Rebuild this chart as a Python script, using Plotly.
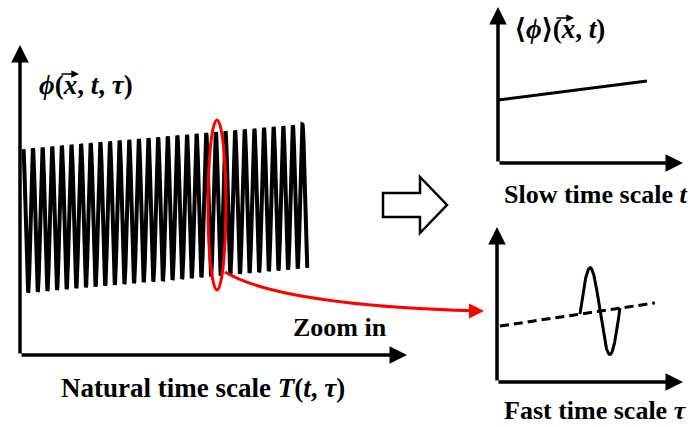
import numpy as np
import plotly.graph_objects as go

# ---------------- data ----------------
# Left panel: fast oscillation riding on a slowly rising mean (natural time T)
osc_T_range = [0.34, 29.84]      # start / end of oscillation on T axis (1 unit = 1 cycle)
osc_mean = [4.32, 5.13]          # slow mean value at start / end
osc_amp = 2.32                   # oscillation amplitude
zoom_T = 20.46                   # location of the zoom window
zoom_halfwidth = 0.93
zoom_phi = [2.10, 7.58]

# Top-right: slow time-scale mean
slow_t = [0.0, 8.05]
slow_phi = [4.04, 5.26]

# Bottom-right: fast time-scale (one cycle over the mean)
fast_tau = [0.16, 8.49]
fast_mean = [3.61, 5.10]
burst_tau = [4.46, 6.61]
burst_amp = 2.9

# axis extents
left_x_max, left_y_max = 40.2, 10.0
right_x_max, right_y_max = 10.0, 10.0

# ---------------- build curves ----------------
T = np.linspace(osc_T_range[0], osc_T_range[1], 2400)
mean_T = np.interp(T, osc_T_range, osc_mean)
phi = mean_T + osc_amp * np.cos(2 * np.pi * (T - osc_T_range[0]))

tau_b = np.linspace(burst_tau[0], burst_tau[1], 200)
base_b = np.interp(tau_b, fast_tau, fast_mean)
burst = base_b + burst_amp * np.sin(2 * np.pi * (tau_b - burst_tau[0]) / (burst_tau[1] - burst_tau[0]))

W, H = 691, 427
def px(x): return x / W
def py(y): return 1 - y / H

fig = go.Figure()
fig.add_trace(go.Scatter(x=T, y=phi, mode="lines", line=dict(color="black", width=4),
                         xaxis="x", yaxis="y", hoverinfo="skip"))
fig.add_trace(go.Scatter(x=slow_t, y=slow_phi, mode="lines", line=dict(color="black", width=3),
                         xaxis="x2", yaxis="y2", hoverinfo="skip"))
fig.add_trace(go.Scatter(x=fast_tau, y=fast_mean, mode="lines",
                         line=dict(color="black", width=3, dash="9px,5px"),
                         xaxis="x3", yaxis="y3", hoverinfo="skip"))
fig.add_trace(go.Scatter(x=tau_b, y=burst, mode="lines", line=dict(color="black", width=3),
                         xaxis="x3", yaxis="y3", hoverinfo="skip"))

ax_common = dict(visible=False, fixedrange=True)
fig.update_layout(
    width=W, height=H, margin=dict(l=0, r=0, t=0, b=0),
    paper_bgcolor="white", plot_bgcolor="rgba(0,0,0,0)", showlegend=False,
    xaxis=dict(domain=[px(20), px(407)], range=[0, left_x_max], **ax_common),
    yaxis=dict(domain=[py(355), py(45)], range=[0, left_y_max], **ax_common),
    xaxis2=dict(domain=[px(498), px(683)], range=[0, right_x_max], anchor="y2", **ax_common),
    yaxis2=dict(domain=[py(163), py(7)], range=[0, right_y_max], anchor="x2", **ax_common),
    xaxis3=dict(domain=[px(497), px(683)], range=[0, right_x_max], anchor="y3", **ax_common),
    yaxis3=dict(domain=[py(382), py(227)], range=[0, right_y_max], anchor="x3", **ax_common),
)

ann = []
def axis_arrow(xr, yr, x0, y0, x1, y1, color="black", w=3.5):
    ann.append(dict(xref=xr, yref=yr, axref=xr, ayref=yr, x=x1, y=y1, ax=x0, ay=y0,
                    showarrow=True, arrowhead=2, arrowsize=1, arrowwidth=w,
                    arrowcolor=color, text=""))

axis_arrow("x", "y", 0, 0, 0, left_y_max)
axis_arrow("x", "y", 0, 0, left_x_max, 0)
axis_arrow("x2", "y2", 0, 0, 0, right_y_max)
axis_arrow("x2", "y2", 0, 0, right_x_max, 0)
axis_arrow("x3", "y3", 0, 0, 0, right_y_max)
axis_arrow("x3", "y3", 0, 0, right_x_max, 0)

# red arrow head at the end of zoom connector
ann.append(dict(xref="paper", yref="paper", x=px(484), y=py(311), ax=-14, ay=0,
                showarrow=True, arrowhead=2, arrowsize=1, arrowwidth=3,
                arrowcolor="red", text=""))

font = "Liberation Serif, Times New Roman, serif"
def label(text, x, y, size):
    ann.append(dict(xref="paper", yref="paper", x=px(x), y=py(y), text=text,
                    showarrow=False, xanchor="center", yanchor="middle",
                    font=dict(family=font, size=size, color="black")))

def vec_arrow(x0, x1, y):
    ann.append(dict(xref="paper", yref="paper", x=px(x1), y=py(y), ax=-(x1 - x0), ay=0,
                    showarrow=True, arrowhead=2, arrowsize=1.1, arrowwidth=1.4,
                    arrowcolor="black", text=""))

label("<b><i>ϕ</i>(<i>x</i>, <i>t</i>, <i>τ</i>)</b>", 86, 85, 27)
label("<b>⟨<i>ϕ</i>⟩(<i>x</i>, <i>t</i>)</b>", 560, 29, 27)
label("<b>Slow time scale <i>t</i></b>", 595, 194, 26)
label("<b>Fast time scale <i>τ</i></b>", 595, 410, 26)
label("<b>Zoom in</b>", 340, 327, 26)
label("<b>Natural time scale <i>T</i>(<i>t</i>, <i>τ</i>)</b>", 203, 388, 27)
vec_arrow(60, 79, 74)
vec_arrow(555, 574, 18)

shapes = []
# zoom ellipse
shapes.append(dict(type="circle", xref="x", yref="y",
                   x0=zoom_T - zoom_halfwidth, x1=zoom_T + zoom_halfwidth,
                   y0=zoom_phi[0], y1=zoom_phi[1],
                   line=dict(color="red", width=3)))
# connector curve (paper coordinates)
p0 = (px(225), py(272)); c1 = (px(280), py(305)); p2 = (px(474), py(310.8))
shapes.append(dict(type="path", xref="paper", yref="paper",
                   path=f"M {p0[0]},{p0[1]} Q {c1[0]},{c1[1]} {p2[0]},{p2[1]}",
                   line=dict(color="red", width=3)))
# hollow block arrow
pts = [(383, 193), (420, 193), (420, 177), (447, 205), (420, 233), (420, 217), (383, 217)]
path = "M " + " L ".join(f"{px(a)},{py(b)}" for a, b in pts) + " Z"
shapes.append(dict(type="path", xref="paper", yref="paper", path=path,
                   line=dict(color="black", width=2.5), fillcolor="white"))

fig.update_layout(annotations=ann, shapes=shapes)
fig.write_html("out.html", config={"displayModeBar": False},
               post_script="document.body.style.margin='0';")
